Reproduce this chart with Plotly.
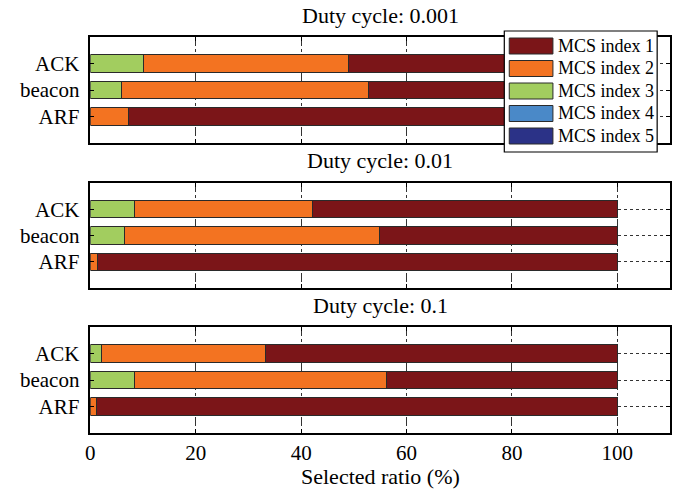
import plotly.graph_objects as go

W, H = 679, 491

# ---------------- data ----------------
categories = ["ARF", "beacon", "ACK"]
cat_pos = [1, 2, 3]
panel_titles = ["Duty cycle: 0.001", "Duty cycle: 0.01", "Duty cycle: 0.1"]
x_tick_vals = [0, 20, 40, 60, 80, 100]
series_names = ["MCS index 1", "MCS index 2", "MCS index 3", "MCS index 4", "MCS index 5"]

# segment widths (%) per category [ARF, beacon, ACK]
mcs1_dc0001 = [92.8, 47.2, 51.0]
mcs2_dc0001 = [7.2, 46.8, 39.0]
mcs3_dc0001 = [0.0, 6.0, 10.0]
mcs4_dc0001 = [0.0, 0.0, 0.0]
mcs5_dc0001 = [0.0, 0.0, 0.0]

mcs1_dc001 = [98.6, 45.2, 57.8]
mcs2_dc001 = [1.4, 48.3, 33.9]
mcs3_dc001 = [0.0, 6.5, 8.3]
mcs4_dc001 = [0.0, 0.0, 0.0]
mcs5_dc001 = [0.0, 0.0, 0.0]

mcs1_dc01 = [98.8, 43.9, 66.8]
mcs2_dc01 = [1.2, 47.8, 31.0]
mcs3_dc01 = [0.0, 8.3, 2.2]
mcs4_dc01 = [0.0, 0.0, 0.0]
mcs5_dc01 = [0.0, 0.0, 0.0]

panels = [
    [mcs1_dc0001, mcs2_dc0001, mcs3_dc0001, mcs4_dc0001, mcs5_dc0001],
    [mcs1_dc001, mcs2_dc001, mcs3_dc001, mcs4_dc001, mcs5_dc001],
    [mcs1_dc01, mcs2_dc01, mcs3_dc01, mcs4_dc01, mcs5_dc01],
]

# ---------------- style ----------------
colors = ["#7B1518", "#F37321", "#A2CD5F", "#4A89C8", "#2B3287"]
FONT = "Liberation Serif"
EDGE = "#2a2a2a"


def px_x(x):
    return x / W


def px_y(y):
    return 1 - y / H


x_left, x_right = 86, 670
panel_px = [(37, 143), (183, 288), (327, 433)]

fig = go.Figure()

for p, data in enumerate(panels):
    suffix = "" if p == 0 else str(p + 1)
    # stack order: MCS5, MCS4, MCS3, MCS2, MCS1 (left to right)
    for s in [4, 3, 2, 1, 0]:
        fig.add_trace(go.Bar(
            x=data[s], y=cat_pos, orientation="h",
            name=series_names[s],
            marker=dict(color=colors[s],
                        line=dict(color=EDGE, width=1 if s < 3 else 0)),
            width=0.65,
            showlegend=False,
            xaxis="x" + suffix, yaxis="y" + suffix,
            hoverinfo="skip",
        ))

layout_axes = {}
for p, (top, bot) in enumerate(panel_px):
    suffix = "" if p == 0 else str(p + 1)
    layout_axes["xaxis" + suffix] = dict(
        domain=[px_x(x_left), px_x(x_right)],
        range=[0, 110],
        anchor="y" + suffix,
        tickvals=x_tick_vals,
        showticklabels=(p == 2),
        ticks="inside", ticklen=4, tickcolor="black",
        showline=True, linecolor="black", linewidth=1.5, mirror="ticks",
        showgrid=True, gridcolor="#333333", gridwidth=1, griddash="dashdot",
        zeroline=False,
        tickfont=dict(family=FONT, size=21, color="black"),
    )
    layout_axes["yaxis" + suffix] = dict(
        domain=[px_y(bot), px_y(top)],
        range=[0, 4],
        anchor="x" + suffix,
        tickvals=cat_pos, ticktext=categories,
        ticks="inside", ticklen=4, tickcolor="black",
        ticklabelstandoff=5,
        showline=True, linecolor="black", linewidth=1.5, mirror="ticks",
        showgrid=True, gridcolor="#333333", gridwidth=1, griddash="dot",
        zeroline=False,
        tickfont=dict(family=FONT, size=21, color="black"),
    )

annotations = []
title_y = [15, 160, 305]
for p in range(3):
    annotations.append(dict(
        text=panel_titles[p], xref="paper", yref="paper",
        x=px_x((x_left + x_right) / 2), y=px_y(title_y[p]),
        xanchor="center", yanchor="middle", showarrow=False,
        font=dict(family=FONT, size=22, color="black"),
    ))
annotations.append(dict(
    text="Selected ratio (%)", xref="paper", yref="paper",
    x=px_x((x_left + x_right) / 2), y=px_y(476),
    xanchor="center", yanchor="middle", showarrow=False,
    font=dict(family=FONT, size=22, color="black"),
))

# legend box drawn manually
shapes = []
lg_left, lg_right, lg_top, lg_bot = 503, 657, 31, 152
shapes.append(dict(type="rect", xref="paper", yref="paper",
                   x0=px_x(lg_left), x1=px_x(lg_right),
                   y0=px_y(lg_bot), y1=px_y(lg_top),
                   fillcolor="white", line=dict(color="black", width=1.2),
                   layer="above"))
for i, name in enumerate(series_names):
    cy = 46 + i * 22.5
    shapes.append(dict(type="rect", xref="paper", yref="paper",
                       x0=px_x(508), x1=px_x(552),
                       y0=px_y(cy + 8), y1=px_y(cy - 8),
                       fillcolor=colors[i], line=dict(color=EDGE, width=1),
                       layer="above"))
    annotations.append(dict(
        text=name, xref="paper", yref="paper",
        x=px_x(555), y=px_y(cy), xanchor="left", yanchor="middle",
        showarrow=False, font=dict(family=FONT, size=18, color="black"),
    ))

fig.update_layout(
    width=W, height=H,
    margin=dict(l=0, r=0, t=0, b=0),
    paper_bgcolor="white", plot_bgcolor="white",
    barmode="stack",
    showlegend=False,
    font=dict(family=FONT, color="black"),
    annotations=annotations,
    shapes=shapes,
    **layout_axes,
)

fig.write_html("out.html")
